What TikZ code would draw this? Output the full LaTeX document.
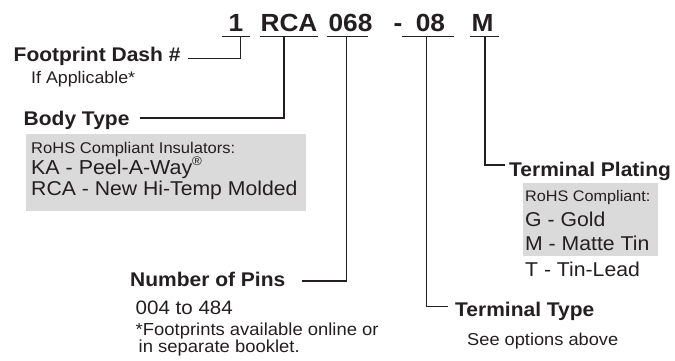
\documentclass[tikz,border=0pt]{standalone}
\usepackage{fontspec}
\setmainfont{Liberation Sans}[FakeStretch=1.06]
\definecolor{ink}{HTML}{231F20}
\definecolor{boxgray}{HTML}{DADADA}
\newcommand{\fsz}[1]{\fontsize{#1}{#1}\selectfont}
\begin{document}
\begin{tikzpicture}[x=1pt,y=-1pt,
  lbl/.style={anchor=base west, inner sep=0pt, text=ink, font=\fsz{19.8}\bfseries},
  txt/.style={anchor=base west, inner sep=0pt, text=ink},
  code/.style={anchor=base, inner sep=0pt, text=ink, font=\fsz{24.8}\bfseries},
  conn/.style={draw=ink, line width=1.2pt},
  gbox/.style={fill=boxgray, draw=none}]
\useasboundingbox (0,0) rectangle (675,360);
% grey boxes
\fill[gbox] (26,134) rectangle (305.7,211);
\fill[gbox] (522.7,183.3) rectangle (658.3,256);
% part number
\node[code] (k1) at (236,31.7) {1};
\node[code] (krca) at (289,31.7) {RCA};
\node[code] (k068) at (350.5,31.7) {068};
\node[code] (kdash) at (398,31.7) {-};
\node[code] (k08) at (430.5,31.7) {08};
\node[code] (km) at (482.5,31.7) {M};
% underline coordinates
\coordinate (u1a) at (221.7,36.5); \coordinate (u1b) at (250,36.5); \coordinate (u1m) at (240.7,36.5);
\coordinate (u2a) at (260,36.5); \coordinate (u2b) at (317.7,36.5); \coordinate (u2m) at (284,36.5);
\coordinate (u3a) at (326.7,36.5); \coordinate (u3b) at (368,36.5); \coordinate (u3m) at (346.7,36.5);
\coordinate (u4a) at (401.7,36.5); \coordinate (u4b) at (454,36.5); \coordinate (u4m) at (426.7,36.5);
\coordinate (u5a) at (470,36.5); \coordinate (u5b) at (499.3,36.5); \coordinate (u5m) at (485,36.5);
\foreach \u in {u1,u2,u3,u4,u5} {\draw[conn] (\u a) -- (\u b);}
% labels
\node[lbl] (fd) at (13.5,61.7) {Footprint Dash \#};
\node[txt, font=\fsz{16.8}] (fdsub) at (31,83.3) {If Applicable*};
\node[lbl] (bt) at (23.5,125.7) {Body Type};
\node[txt, font=\fsz{15.6}] (bt1) at (31,153.3) {RoHS Compliant Insulators:};
\node[txt, font=\fsz{20.2}] (bt2) at (31,174) {KA - Peel-A-Way\raisebox{0.42em}{\fsz{12.5}®}};
\node[txt, font=\fsz{20}] (bt3) at (31,195) {RCA - New Hi-Temp Molded};
\node[lbl] (np) at (130,286.7) {Number of Pins};
\node[txt, font=\fsz{19.4}] (np1) at (135.5,314) {004 to 484};
\node[txt, font=\fsz{17.4}] (np2) at (135.5,335) {*Footprints available online or};
\node[txt, font=\fsz{17.4}] (np3) at (138.5,352.7) {in separate booklet.};
\node[lbl] (tt) at (455,316.7) {Terminal Type};
\node[txt, font=\fsz{17.2}] (tt1) at (467,345) {See options above};
\node[lbl] (tp) at (509,176) {Terminal Plating};
\node[txt, font=\fsz{15.3}] (tp1) at (525,201.7) {RoHS Compliant:};
\node[txt, font=\fsz{20}] (tp2) at (525,226) {G - Gold};
\node[txt, font=\fsz{20}] (tp3) at (525,250) {M - Matte Tin};
\node[txt, font=\fsz{20}] (tp4) at (525,276.7) {T - Tin-Lead};
% connector ends
\coordinate (fdE) at (188,58.3);
\coordinate (btE) at (140,118);
\coordinate (npE) at (302,281);
\coordinate (ttE) at (448,306.7);
\coordinate (tpE) at (505,165);
\draw[conn] (u1m) |- (fdE);
\draw[conn] (u2m) |- (btE);
\draw[conn] (u3m) |- (npE);
\draw[conn] (u4m) |- (ttE);
\draw[conn] (u5m) |- (tpE);
\end{tikzpicture}
\end{document}
